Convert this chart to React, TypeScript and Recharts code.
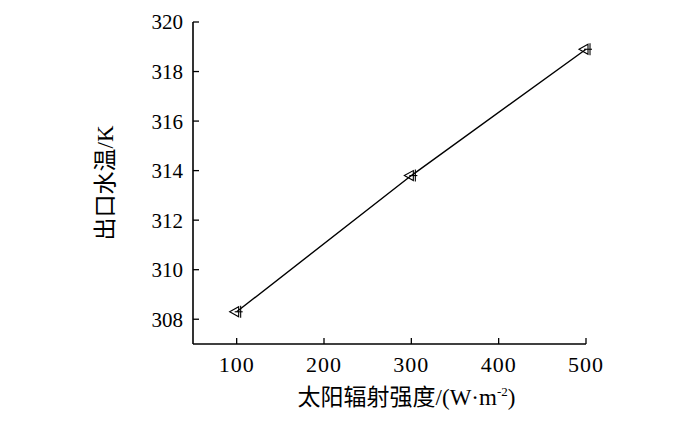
import React from 'react';
import { LineChart, Line, XAxis, YAxis } from 'recharts';

const irradiance = [100, 300, 500];
const outletTemp = [308.3, 313.8, 318.9];
const xTicks = [100, 200, 300, 400, 500];
const yTicks = [308, 310, 312, 314, 316, 318, 320];

const data = irradiance.map((x, i) => ({ x, y: outletTemp[i] }));

const FONT = "'Liberation Serif', 'Noto Sans CJK SC', serif";

const Marker = (props: any) => {
  const { cx, cy } = props;
  if (cx == null || cy == null) return null;
  return (
    <g stroke="#000" strokeWidth={1.1} fill="none">
      <polygon points={`${cx - 7},${cy} ${cx + 2},${cy - 5} ${cx + 2},${cy + 5}`} />
      <line x1={cx + 4} y1={cy - 6} x2={cx + 4} y2={cy + 6} />
      <line x1={cx - 2} y1={cy} x2={cx + 6} y2={cy} />
    </g>
  );
};

const XLabel = (props: any) => {
  const vb = props.viewBox;
  const cx = vb.x + vb.width / 2 + 17;
  return (
    <text x={cx} y={405} textAnchor="middle" fontSize={23} fontFamily={FONT} fill="#000">
      太阳辐射强度/(W·m
      <tspan fontSize={13} dy={-9}>-2</tspan>
      <tspan dy={9}>)</tspan>
    </text>
  );
};

const YLabel = (props: any) => {
  const vb = props.viewBox;
  const cy = vb.y + vb.height / 2;
  const x = 113;
  return (
    <text
      x={x}
      y={cy}
      textAnchor="middle"
      fontSize={23}
      fontFamily={FONT}
      fill="#000"
      transform={`rotate(-90 ${x} ${cy})`}
    >
      出口水温/K
    </text>
  );
};

export default function App() {
  return (
    <div style={{ position: 'absolute', left: 0, top: 0, width: 700, height: 437, background: '#fff' }}>
      <LineChart
        width={700}
        height={437}
        data={data}
        margin={{ top: 22, right: 114, bottom: 53, left: 133 }}
      >
        <XAxis
          dataKey="x"
          type="number"
          domain={[50, 500]}
          ticks={xTicks}
          height={40}
          tickSize={-6}
          tickMargin={18}
          axisLine={{ stroke: '#000', strokeWidth: 1.6 }}
          tickLine={{ stroke: '#000', strokeWidth: 1.3 }}
          tick={{ fill: '#000', fontSize: 22, fontFamily: FONT, letterSpacing: 1 }}
          label={<XLabel />}
        />
        <YAxis
          dataKey="y"
          type="number"
          domain={[307, 320]}
          ticks={yTicks}
          width={60}
          tickSize={-6}
          tickMargin={16}
          axisLine={{ stroke: '#000', strokeWidth: 1.6 }}
          tickLine={{ stroke: '#000', strokeWidth: 1.3 }}
          tick={{ fill: '#000', fontSize: 21, fontFamily: FONT }}
          label={<YLabel />}
        />
        <Line
          dataKey="y"
          stroke="#000"
          strokeWidth={1.4}
          dot={<Marker />}
          activeDot={false}
          isAnimationActive={false}
        />
      </LineChart>
    </div>
  );
}
